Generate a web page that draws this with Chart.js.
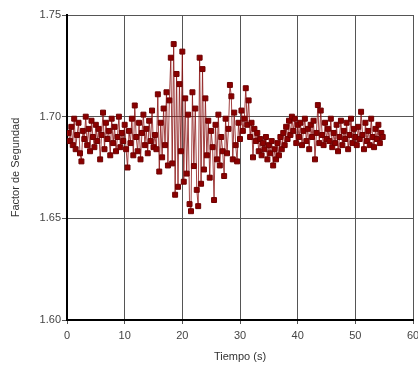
<!DOCTYPE html>
<html lang="es">
<head>
  <meta charset="UTF-8">
  <title>Factor de Segundad vs Tiempo</title>
  <script src="https://cdn.jsdelivr.net/npm/chart.js"></script>
  <style>
    html, body { margin: 0; padding: 0; background: #fff; overflow: hidden; }
    #chart { display: block; }
  </style>
</head>
<body>
<canvas id="chart" width="430" height="369"></canvas>
<script>
  // time (s)
  const tiempo = [
    0.25, 0.5, 0.75, 1, 1.25, 1.5, 1.75, 2, 2.25, 2.5, 2.75, 3, 3.25, 3.5, 3.75, 4, 4.25, 4.5, 4.75, 5,
    5.25, 5.5, 5.75, 6, 6.25, 6.5, 6.75, 7, 7.25, 7.5, 7.75, 8, 8.25, 8.5, 8.75, 9, 9.25, 9.5, 9.75, 10,
    10.25, 10.5, 10.75, 11, 11.25, 11.5, 11.75, 12, 12.25, 12.5, 12.75, 13, 13.25, 13.5, 13.75, 14, 14.25, 14.5, 14.75, 15,
    15.25, 15.5, 15.75, 16, 16.25, 16.5, 16.75, 17, 17.25, 17.5, 17.75, 18, 18.25, 18.5, 18.75, 19, 19.25, 19.5, 19.75, 20,
    20.25, 20.5, 20.75, 21, 21.25, 21.5, 21.75, 22, 22.25, 22.5, 22.75, 23, 23.25, 23.5, 23.75, 24, 24.25, 24.5, 24.75, 25,
    25.25, 25.5, 25.75, 26, 26.25, 26.5, 26.75, 27, 27.25, 27.5, 27.75, 28, 28.25, 28.5, 28.75, 29, 29.25, 29.5, 29.75, 30,
    30.25, 30.5, 30.75, 31, 31.25, 31.5, 31.75, 32, 32.25, 32.5, 32.75, 33, 33.25, 33.5, 33.75, 34, 34.25, 34.5, 34.75, 35,
    35.25, 35.5, 35.75, 36, 36.25, 36.5, 36.75, 37, 37.25, 37.5, 37.75, 38, 38.25, 38.5, 38.75, 39, 39.25, 39.5, 39.75, 40,
    40.25, 40.5, 40.75, 41, 41.25, 41.5, 41.75, 42, 42.25, 42.5, 42.75, 43, 43.25, 43.5, 43.75, 44, 44.25, 44.5, 44.75, 45,
    45.25, 45.5, 45.75, 46, 46.25, 46.5, 46.75, 47, 47.25, 47.5, 47.75, 48, 48.25, 48.5, 48.75, 49, 49.25, 49.5, 49.75, 50,
    50.25, 50.5, 50.75, 51, 51.25, 51.5, 51.75, 52, 52.25, 52.5, 52.75, 53, 53.25, 53.5, 53.75, 54, 54.25, 54.5, 54.75
  ];

  // safety factor
  const factor = [
    1.692, 1.688, 1.695, 1.686, 1.699, 1.684, 1.691, 1.697, 1.682, 1.678, 1.693, 1.689, 1.700, 1.686, 1.694, 1.683, 1.698, 1.690, 1.685, 1.696,
    1.688, 1.694, 1.679, 1.691, 1.702, 1.684, 1.697, 1.689, 1.693, 1.681, 1.699, 1.687, 1.695, 1.683, 1.690, 1.700, 1.685, 1.692, 1.688, 1.696,
    1.684, 1.675, 1.693, 1.687, 1.699, 1.681, 1.7055, 1.690, 1.683, 1.697, 1.679, 1.692, 1.701, 1.686, 1.694, 1.682, 1.698, 1.688, 1.703, 1.685,
    1.691, 1.684, 1.711, 1.673, 1.697, 1.680, 1.704, 1.686, 1.712, 1.676, 1.708, 1.729, 1.677, 1.7357, 1.6616, 1.721, 1.6655, 1.716, 1.683, 1.732,
    1.668, 1.709, 1.672, 1.701, 1.657, 1.6535, 1.712, 1.6757, 1.704, 1.664, 1.656, 1.729, 1.667, 1.7234, 1.674, 1.709, 1.681, 1.698, 1.670, 1.693,
    1.685, 1.659, 1.696, 1.679, 1.701, 1.676, 1.690, 1.683, 1.6708, 1.699, 1.682, 1.694, 1.7156, 1.710, 1.679, 1.702, 1.686, 1.678, 1.697, 1.689,
    1.703, 1.693, 1.699, 1.714, 1.696, 1.708, 1.690, 1.697, 1.680, 1.694, 1.688, 1.692, 1.683, 1.689, 1.681, 1.687, 1.684, 1.690, 1.679, 1.686,
    1.682, 1.688, 1.676, 1.684, 1.679, 1.687, 1.681, 1.690, 1.684, 1.692, 1.686, 1.695, 1.689, 1.698, 1.691, 1.700, 1.693, 1.699, 1.687, 1.696,
    1.690, 1.697, 1.686, 1.693, 1.699, 1.688, 1.694, 1.684, 1.696, 1.690, 1.698, 1.679, 1.692, 1.7057, 1.687, 1.703, 1.691, 1.686, 1.697, 1.689,
    1.694, 1.688, 1.699, 1.685, 1.692, 1.687, 1.696, 1.683, 1.690, 1.698, 1.686, 1.693, 1.689, 1.697, 1.684, 1.691, 1.699, 1.687, 1.694, 1.690,
    1.686, 1.695, 1.689, 1.7024, 1.691, 1.684, 1.697, 1.688, 1.693, 1.686, 1.699, 1.690, 1.685, 1.694, 1.689, 1.696, 1.687, 1.692, 1.690
  ];

  const xTicks = [0, 10, 20, 30, 40, 50, 60];
  const yTicks = [1.60, 1.65, 1.70, 1.75];

  const points = tiempo.map((t, i) => ({ x: t, y: factor[i] }));

  const font = { family: '"Liberation Sans", Arial, sans-serif', size: 11 };

  new Chart(document.getElementById('chart'), {
    type: 'line',
    data: {
      datasets: [{
        data: points,
        borderColor: 'rgba(139, 20, 20, 0.8)',
        borderWidth: 1,
        pointStyle: 'rect',
        pointRadius: 3.5,
        pointBackgroundColor: '#8b0000',
        pointBorderColor: '#6e0000',
        pointBorderWidth: 1,
        tension: 0,
        fill: false
      }]
    },
    options: {
      responsive: false,
      animation: false,
      layout: { padding: { top: 15, right: 17, left: 0, bottom: 0 } },
      plugins: { legend: { display: false }, tooltip: { enabled: false } },
      scales: {
        x: {
          type: 'linear',
          min: xTicks[0],
          max: xTicks[xTicks.length - 1],
          afterBuildTicks: s => { s.ticks = xTicks.map(v => ({ value: v })); },
          afterFit: s => { s.height = 49; },
          border: { color: '#000', width: 2 },
          grid: { color: '#555', lineWidth: 1, tickLength: 4 },
          ticks: { color: '#444', font: font, padding: 5, maxRotation: 0 },
          title: { display: true, text: 'Tiempo (s)', color: '#333', font: font, padding: { top: 0, bottom: 5 } }
        },
        y: {
          min: yTicks[0],
          max: yTicks[yTicks.length - 1],
          afterBuildTicks: s => { s.ticks = yTicks.map(v => ({ value: v })); },
          afterFit: s => { s.width = 67; },
          border: { color: '#000', width: 2 },
          grid: { color: '#555', lineWidth: 1, tickLength: 5 },
          ticks: { color: '#444', font: font, padding: 1, callback: v => v.toFixed(2) },
          title: { display: true, text: 'Factor de Segundad', color: '#333', font: font, padding: { top: 9, bottom: 0 } }
        }
      }
    }
  });
</script>
</body>
</html>
